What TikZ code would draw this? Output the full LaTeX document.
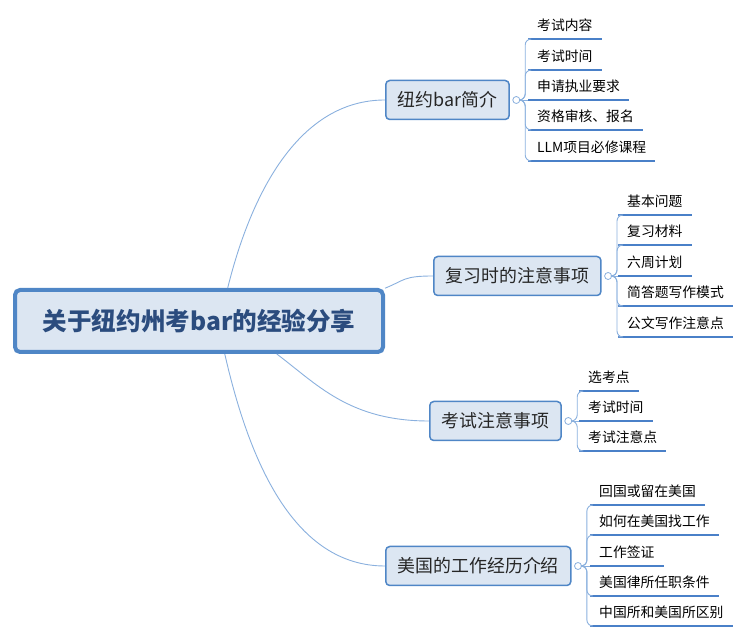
\documentclass[tikz,border=0pt]{standalone}
\usepackage{fontspec}
\setmainfont{Noto Sans CJK SC}
\usetikzlibrary{positioning}
\definecolor{boxfill}{HTML}{DCE6F2}
\definecolor{boxline}{HTML}{4F86C6}
\definecolor{linkcol}{HTML}{8AB0DE}
\definecolor{ulinecol}{HTML}{4A80C8}
\definecolor{roottext}{HTML}{2B4C7E}
\tikzset{
  root/.style={draw=boxline, line width=4pt, fill=boxfill, rounded corners=5pt,
    minimum width=368pt, minimum height=62pt, text=roottext,
    font=\fontsize{24.6}{28}\selectfont\bfseries},
  branch/.style={anchor=west, draw=boxline, line width=1.5pt, fill=boxfill,
    rounded corners=4pt, minimum height=39pt, inner xsep=12pt, text=black!85,
    font=\fontsize{17.9}{20}\selectfont},
  dot/.style={circle, draw=linkcol, fill=white, line width=0.8pt,
    minimum size=7pt, inner sep=0pt},
  link/.style={draw=linkcol, line width=0.9pt, rounded corners=6pt},
  uline/.style={draw=ulinecol, line width=2.4pt},
  leaf/.style={anchor=south west, inner xsep=9pt, inner ysep=5pt, text depth=3pt,
    font=\fontsize{13.8}{16}\selectfont,
    append after command={(\tikzlastnode.south west) edge[uline] (\tikzlastnode.south east)}},
}
\begin{document}
\begin{tikzpicture}[x=1pt, y=1pt]
          \useasboundingbox (0, 0) rectangle (750, 640);
          \draw (199, 319) node[root](R){关于纽约州考bar的经验分享} ;
          \draw (385, 540) node[branch](B1){纽约bar简介} ;
          \draw (433, 364) node[branch](B2){复习时的注意事项} ;
          \draw (429, 219) node[branch](B3){考试注意事项} ;
          \draw (385, 74) node[branch](B4){美国的工作经历介绍} ;
          \draw[link] (R.49) .. controls +(24, 97) and +(-85, 0) .. (B1.west) ;
          \draw[link] (R.10.5) .. controls +(20, 8) and +(-30, 0) .. (B2.west) ;
          \draw[link] (R.-23) .. controls +(40, -30) and +(-80, 0) .. (B3.west) ;
          \draw[link] (R.-52) .. controls +(25, -110) and +(-90, 0) .. (B4.west) ;
          % 纽约bar简介
          \draw (528, 601) node[leaf](a1){考试内容} ;
          \draw (528, 570) node[leaf](a2){考试时间} ;
          \draw (528, 540) node[leaf](a3){申请执业要求} ;
          \draw (528, 510) node[leaf](a4){资格审核、报名} ;
          \draw (528, 479) node[leaf](a5){LLM项目必修课程} ;
          % 复习时的注意事项
          \draw (618, 425) node[leaf](b1){基本问题} ;
          \draw (618, 395) node[leaf](b2){复习材料} ;
          \draw (618, 364) node[leaf](b3){六周计划} ;
          \draw (618, 334) node[leaf](b4){简答题写作模式} ;
          \draw (618, 303) node[leaf](b5){公文写作注意点} ;
          % 考试注意事项
          \draw (579, 249) node[leaf](c1){选考点} ;
          \draw (579, 219) node[leaf](c2){考试时间} ;
          \draw (579, 189) node[leaf](c3){考试注意点} ;
          % 美国的工作经历介绍
          \draw (590, 135) node[leaf](d1){回国或留在美国} ;
          \draw (590, 105) node[leaf](d2){如何在美国找工作} ;
          \draw (590, 74) node[leaf](d3){工作签证} ;
          \draw (590, 44) node[leaf](d4){美国律所任职条件} ;
          \draw (590, 14) node[leaf](d5){中国所和美国所区别} ;
          \node[dot, right=2.5pt of B1] (C1) {};
          \node[dot, right=2.5pt of B2] (C2) {};
          \node[dot, right=2.5pt of B3] (C3) {};
          \node[dot, right=2.5pt of B4] (C4) {};
          \draw[link] (C1.east) -- ++(5, 0) |- (a1.south west) ;
          \draw[link] (C1.east) -- ++(5, 0) |- (a2.south west) ;
          \draw[link] (C1.east) -- (a3.south west) ;
          \draw[link] (C1.east) -- ++(5, 0) |- (a4.south west) ;
          \draw[link] (C1.east) -- ++(5, 0) |- (a5.south west) ;
          \draw[link] (C2.east) -- ++(5, 0) |- (b1.south west) ;
          \draw[link] (C2.east) -- ++(5, 0) |- (b2.south west) ;
          \draw[link] (C2.east) -- (b3.south west) ;
          \draw[link] (C2.east) -- ++(5, 0) |- (b4.south west) ;
          \draw[link] (C2.east) -- ++(5, 0) |- (b5.south west) ;
          \draw[link] (C3.east) -- ++(5, 0) |- (c1.south west) ;
          \draw[link] (C3.east) -- (c2.south west) ;
          \draw[link] (C3.east) -- ++(5, 0) |- (c3.south west) ;
          \draw[link] (C4.east) -- ++(5, 0) |- (d1.south west) ;
          \draw[link] (C4.east) -- ++(5, 0) |- (d2.south west) ;
          \draw[link] (C4.east) -- (d3.south west) ;
          \draw[link] (C4.east) -- ++(5, 0) |- (d4.south west) ;
          \draw[link] (C4.east) -- ++(5, 0) |- (d5.south west) ;
        \end{tikzpicture}
\end{document}
